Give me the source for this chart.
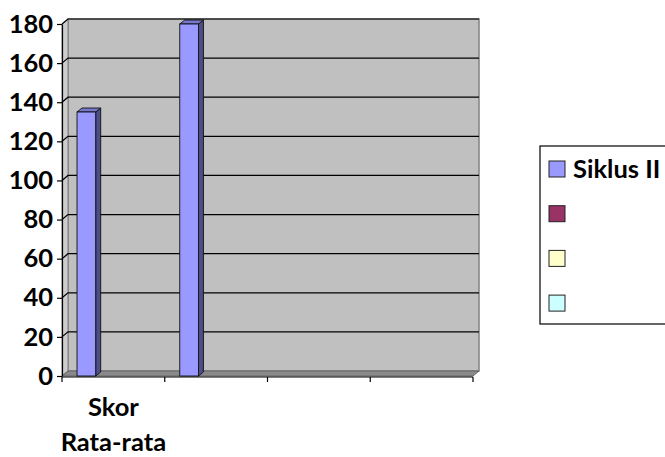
<!DOCTYPE html>
<html>
<head>
<meta charset="utf-8">
<script src="https://cdn.jsdelivr.net/npm/d3@7"></script>
<style>
  body { margin: 0; background: #fff; }
  text { font-family: Lato, "Open Sans", sans-serif; font-weight: bold; }
</style>
</head>
<body>
<div id="chart"></div>
<script>
// Data
const categories = ["Skor Rata-rata", "", "", ""];
const seriesNames = ["Siklus II", "", "", ""];
const seriesColors = ["#9999ff", "#993366", "#ffffcc", "#ccffff"];
const siklusII = [135, 180, null, null];
const yTicks = [0, 20, 40, 60, 80, 100, 120, 140, 160, 180];

function draw() {
  // Dimensions
  let dimensions = {
    width: 665,
    height: 457,
    left: 62,
    right: 473,
    top: 24,
    bottom: 376,
    depthX: 6,
    depthY: -5,
  };
  const dx = dimensions.depthX;
  const dy = dimensions.depthY;
  const fontSize = 25.5;

  const svg = d3
    .select("#chart")
    .append("svg")
    .attr("width", dimensions.width)
    .attr("height", dimensions.height);

  // Scales
  const yScale = d3
    .scaleLinear()
    .domain([0, 180])
    .range([dimensions.bottom, dimensions.top]);

  const xScale = d3
    .scaleBand()
    .domain(d3.range(categories.length))
    .range([dimensions.left, dimensions.right]);

  const seriesScale = d3
    .scaleBand()
    .domain(d3.range(seriesNames.length))
    .range([0, xScale.bandwidth()])
    .paddingOuter(0.75);

  const L = dimensions.left, R = dimensions.right;
  const T = yScale(180), B = yScale(0);

  // Walls
  const walls = svg.append("g");
  // back wall
  walls
    .append("rect")
    .attr("x", L + dx)
    .attr("y", T + dy)
    .attr("width", R - L)
    .attr("height", B - T)
    .attr("fill", "#c0c0c0")
    .attr("stroke", "#808080")
    .attr("stroke-width", 1.5);
  // side wall
  walls
    .append("path")
    .attr("d", `M${L},${T} L${L + dx},${T + dy} L${L + dx},${B + dy} L${L},${B} Z`)
    .attr("fill", "#cccccc")
    .attr("stroke", "#808080")
    .attr("stroke-width", 1);
  // floor
  walls
    .append("path")
    .attr("d", `M${L},${B} L${L + dx},${B + dy} L${R + dx},${B + dy} L${R},${B} Z`)
    .attr("fill", "#8a8a8a")
    .attr("stroke", "#666")
    .attr("stroke-width", 1);

  // Gridlines
  const grid = svg.append("g");
  grid
    .selectAll("path")
    .data(yTicks.filter((d) => d > 0))
    .join("path")
    .attr(
      "d",
      (d) =>
        `M${L},${yScale(d)} L${L + dx},${yScale(d) + dy} L${R + dx},${yScale(d) + dy}`
    )
    .attr("fill", "none")
    .attr("stroke", "#000")
    .attr("stroke-width", 1.2);

  // Bars
  const bars = svg
    .append("g")
    .selectAll("g")
    .data(siklusII.map((v, i) => ({ v, i })).filter((d) => d.v != null))
    .join("g");

  const bdx = 5, bdy = -4;
  const bx = (d) => xScale(d.i) + seriesScale(0) + 1;
  const bw = seriesScale.bandwidth();

  // side
  bars
    .append("path")
    .attr("d", (d) => {
      const x = bx(d) + bw, y = yScale(d.v);
      return `M${x},${y} L${x + bdx},${y + bdy} L${x + bdx},${B + bdy} L${x},${B} Z`;
    })
    .attr("fill", "#4d4d88")
    .attr("stroke", "#111")
    .attr("stroke-width", 0.9);
  // top
  bars
    .append("path")
    .attr("d", (d) => {
      const x = bx(d), y = yScale(d.v);
      return `M${x},${y} L${x + bdx},${y + bdy} L${x + bw + bdx},${y + bdy} L${x + bw},${y} Z`;
    })
    .attr("fill", "#7777cc")
    .attr("stroke", "#111")
    .attr("stroke-width", 0.9);
  // front
  bars
    .append("rect")
    .attr("x", bx)
    .attr("y", (d) => yScale(d.v))
    .attr("width", bw)
    .attr("height", (d) => B - yScale(d.v))
    .attr("fill", seriesColors[0])
    .attr("stroke", "#111")
    .attr("stroke-width", 0.9);

  // Y axis
  const yAxis = d3
    .axisLeft(yScale)
    .tickValues(yTicks)
    .tickSize(5)
    .tickPadding(4)
    .tickSizeOuter(0);
  const yAxisG = svg
    .append("g")
    .attr("transform", `translate(${L}, 0)`)
    .call(yAxis);
  yAxisG.selectAll("line, path").attr("stroke", "#000").attr("stroke-width", 1.2);
  yAxisG
    .selectAll("text")
    .attr("font-size", fontSize)
    .attr("font-family", "Lato, sans-serif")
    .attr("font-weight", "bold")
    .attr("fill", "#000");

  // X axis
  const xAxisG = svg.append("g");
  xAxisG
    .append("line")
    .attr("x1", L)
    .attr("x2", R)
    .attr("y1", B + 1)
    .attr("y2", B + 1)
    .attr("stroke", "#000")
    .attr("stroke-width", 1.2);
  xAxisG
    .selectAll("line.tick")
    .data(d3.range(categories.length + 1))
    .join("line")
    .attr("class", "tick")
    .attr("x1", (d) => (d < categories.length ? xScale(d) : R))
    .attr("x2", (d) => (d < categories.length ? xScale(d) : R))
    .attr("y1", B + 1)
    .attr("y2", B + 6)
    .attr("stroke", "#000")
    .attr("stroke-width", 1.2);

  const catLabels = xAxisG
    .selectAll("text")
    .data(categories)
    .join("text")
    .attr("x", (d, i) => xScale(i) + xScale.bandwidth() / 2)
    .attr("y", 416)
    .attr("text-anchor", "middle")
    .attr("font-size", fontSize)
    .attr("fill", "#000");
  catLabels
    .selectAll("tspan")
    .data((d, i) => d.split(" ").filter((w) => w).map((w) => ({ w, i })))
    .join("tspan")
    .attr("x", (d) => xScale(d.i) + xScale.bandwidth() / 2)
    .attr("dy", (d, j) => (j === 0 ? 0 : 35))
    .text((d) => d.w);

  // Legend
  const legend = svg.append("g");
  legend
    .append("rect")
    .attr("x", 540)
    .attr("y", 146)
    .attr("width", 140)
    .attr("height", 178)
    .attr("fill", "#fff")
    .attr("stroke", "#000")
    .attr("stroke-width", 1.2);
  const items = legend
    .selectAll("g")
    .data(seriesNames)
    .join("g")
    .attr("transform", (d, i) => `translate(549, ${161 + i * 44.7})`);
  items
    .append("rect")
    .attr("width", 16)
    .attr("height", 16)
    .attr("fill", (d, i) => seriesColors[i])
    .attr("stroke", "#222")
    .attr("stroke-width", 1);
  items
    .append("text")
    .attr("x", 24)
    .attr("y", 17)
    .attr("font-size", fontSize)
    .attr("fill", "#000")
    .text((d) => d);
}

draw();
</script>
</body>
</html>
